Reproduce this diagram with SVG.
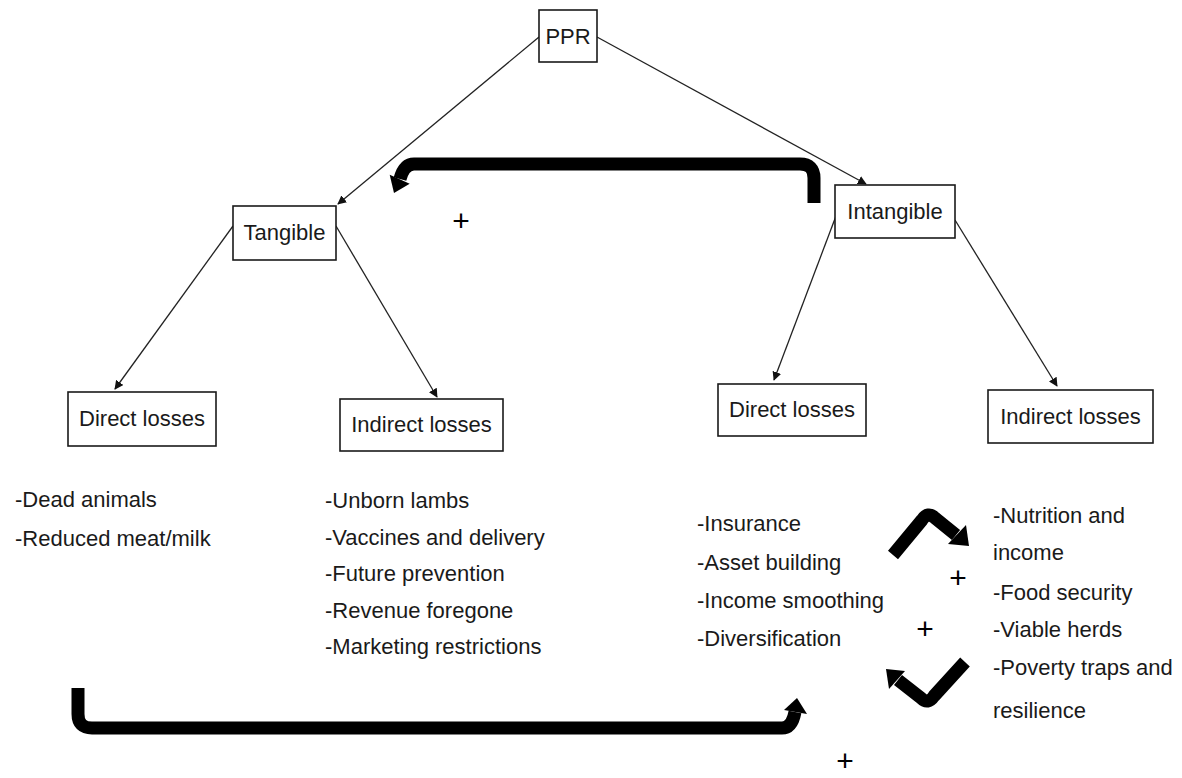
<svg xmlns="http://www.w3.org/2000/svg" width="1182" height="778" viewBox="0 0 1182 778">
  <style>
    .box { fill: #ffffff; stroke: #1a1a1a; stroke-width: 1.6; }
    .lbl { font-family: "Liberation Sans", Arial, sans-serif; font-size: 22px; fill: #1a1a1a; }
    .mid { text-anchor: middle; }
    .thin { stroke: #222; stroke-width: 1.3; fill: none; marker-end: url(#tip); }
    .thick { stroke: #000; stroke-width: 13; fill: none; stroke-linejoin: round; }
    .head { fill: #000; }
    .plus { font-family: "Liberation Sans", Arial, sans-serif; font-size: 30px; fill: #000; text-anchor: middle; }
  </style>
  <defs>
    <marker id="tip" viewBox="0 0 10 10" refX="9" refY="5" markerWidth="9" markerHeight="9" markerUnits="userSpaceOnUse" orient="auto">
      <path d="M0,0 L10,5 L0,10 z" fill="#111"/>
    </marker>
  </defs>
  <rect width="1182" height="778" fill="#ffffff"/>

  <!-- connectors -->
  <g id="connectors">
    <line class="thin" x1="539" y1="37" x2="338" y2="204"/>
    <line class="thin" x1="597" y1="37" x2="866" y2="184"/>
    <line class="thin" x1="233" y1="226" x2="115" y2="389"/>
    <line class="thin" x1="336" y1="226" x2="437" y2="397"/>
    <line class="thin" x1="836" y1="216" x2="774" y2="380"/>
    <line class="thin" x1="955" y1="220" x2="1057" y2="386"/>

    <!-- feedback arrow: Intangible back to Tangible -->
    <path class="thick" d="M814,203 L814,178 Q814,164 800,164 L414,164 Q404,164 400,179"/>
    <polygon class="head" points="409.7,183.8 389.7,174.8 394,193"/>

    <!-- tangible direct losses feeding intangible losses -->
    <path class="thick" d="M78,688 L78,714 Q78,728 92,728 L782,728 Q792,728 795,712"/>
    <polygon class="head" points="784,710 807,714 797,698"/>

    <!-- circular reinforcement arrows -->
    <path class="thick" d="M893,555 L922,520 Q928,511 935,518 L956,535"/>
    <polygon class="head" points="966,525 948,544 969,546"/>
    <path class="thick" d="M965,662 L934,696 Q928,705 921,698 L898,680"/>
    <polygon class="head" points="905,671 889,689 886,669"/>
  </g>

  <g id="ppr">
    <rect class="box" x="539" y="10" width="58" height="52"/>
    <text class="lbl mid" x="568" y="44">PPR</text>
  </g>

  <g id="tangible">
    <rect class="box" x="233" y="206" width="103" height="54"/>
    <text class="lbl mid" x="284.5" y="240">Tangible</text>
  </g>

  <g id="intangible">
    <rect class="box" x="835" y="185" width="120" height="53"/>
    <text class="lbl mid" x="895" y="219">Intangible</text>
  </g>

  <g id="tangible-direct">
    <rect class="box" x="68" y="392" width="148" height="54"/>
    <text class="lbl mid" x="142" y="426">Direct losses</text>
  </g>

  <g id="tangible-indirect">
    <rect class="box" x="340" y="399" width="163" height="52"/>
    <text class="lbl mid" x="421.5" y="432">Indirect losses</text>
  </g>

  <g id="intangible-direct">
    <rect class="box" x="718" y="384" width="148" height="52"/>
    <text class="lbl mid" x="792" y="417">Direct losses</text>
  </g>

  <g id="intangible-indirect">
    <rect class="box" x="988" y="390" width="165" height="53"/>
    <text class="lbl mid" x="1070.5" y="424">Indirect losses</text>
  </g>

  <!-- item lists -->
  <g id="list-tangible-direct" class="lbl">
    <text x="15" y="507">-Dead animals</text>
    <text x="15" y="546">-Reduced meat/milk</text>
  </g>
  <g id="list-tangible-indirect" class="lbl">
    <text x="325" y="508">-Unborn lambs</text>
    <text x="325" y="545">-Vaccines and delivery</text>
    <text x="325" y="581">-Future prevention</text>
    <text x="325" y="618">-Revenue foregone</text>
    <text x="325" y="654">-Marketing restrictions</text>
  </g>
  <g id="list-intangible-direct" class="lbl">
    <text x="697" y="531">-Insurance</text>
    <text x="697" y="570">-Asset building</text>
    <text x="697" y="608">-Income smoothing</text>
    <text x="697" y="646">-Diversification</text>
  </g>
  <g id="list-intangible-indirect" class="lbl">
    <text x="993" y="523">-Nutrition and</text>
    <text x="993" y="560">income</text>
    <text x="993" y="600">-Food security</text>
    <text x="993" y="637">-Viable herds</text>
    <text x="993" y="675">-Poverty traps and</text>
    <text x="993" y="718">resilience</text>
  </g>

  <!-- reinforcement signs -->
  <g id="signs">
    <text class="plus" x="461" y="231">+</text>
    <text class="plus" x="958" y="588">+</text>
    <text class="plus" x="925" y="639">+</text>
    <text class="plus" x="845" y="771">+</text>
  </g>
</svg>
